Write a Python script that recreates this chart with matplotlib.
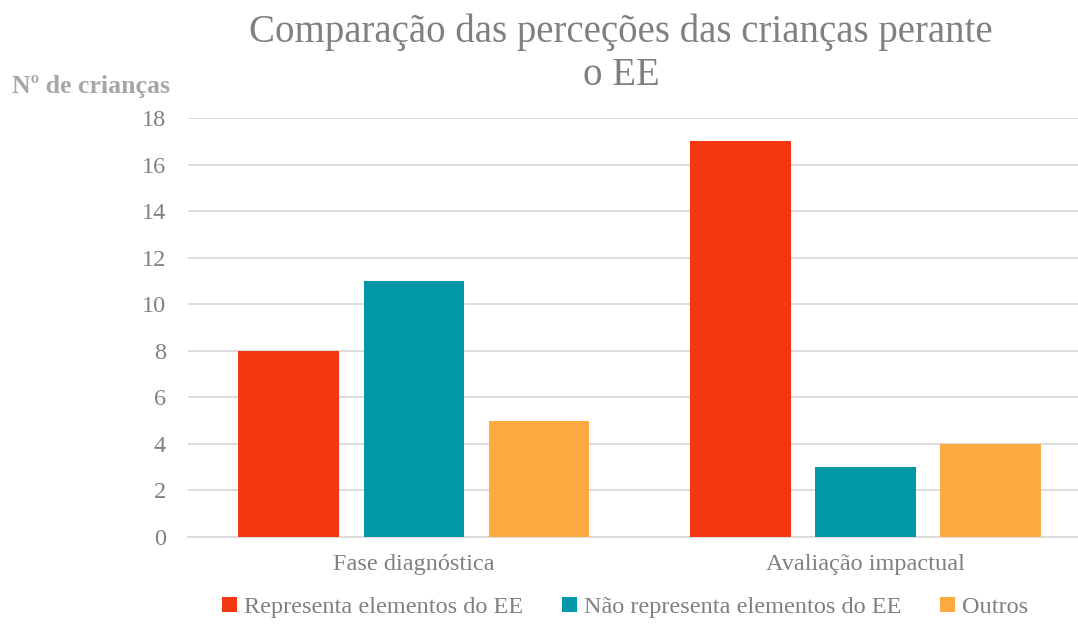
import numpy as np
import matplotlib
matplotlib.use("Agg")
import matplotlib.pyplot as plt

plt.rcParams['font.family'] = ['Liberation Serif', 'DejaVu Serif']

categories = ['Fase diagnóstica', 'Avaliação impactual']
series_names = ['Representa elementos do EE', 'Não representa elementos do EE', 'Outros']
values = [
    [8, 17],
    [11, 3],
    [5, 4],
]
colors = ['#F4370E', '#0097A7', '#FFAA40']
yticks = [0, 2, 4, 6, 8, 10, 12, 14, 16, 18]

fig = plt.figure(figsize=(10.78, 6.24), dpi=100)
ax = fig.add_axes([0.1745, 0.1394, 0.8255, 0.6716])

x = np.arange(len(categories))
width = 0.223
offset = 0.277
handles = []
for i, (name, vals, c) in enumerate(zip(series_names, values, colors)):
    b = ax.bar(x + (i - 1) * offset, vals, width, color=c, label=name, zorder=3)
    handles.append(b)

ax.set_ylim(0, 18)
ax.set_xlim(-0.5, 1.47)
ax.set_yticks(yticks)
ax.set_xticks(x)
ax.set_xticklabels(categories)
ax.yaxis.grid(True, color='#D9D9D9', linewidth=1.3, zorder=0)
for s in ['top', 'right', 'left']:
    ax.spines[s].set_visible(False)
ax.spines['bottom'].set_color('#D9D9D9')
ax.spines['bottom'].set_linewidth(1.3)
ax.tick_params(axis='both', length=0, labelsize=17.5, colors='#808080')
ax.tick_params(axis='y', pad=16)
ax.tick_params(axis='x', pad=12)

fig.text(0.576, 0.978, 'Comparação das perceções das crianças perante\no EE',
         ha='center', va='top', fontsize=28, color='#808080', linespacing=1.22)
fig.text(0.011, 0.861, 'Nº de crianças', ha='left', va='center',
         fontsize=18.5, fontweight='bold', color='#A6A6A6')

leg = fig.legend(handles=handles, labels=series_names, loc='center',
                 bbox_to_anchor=(0.58, 0.027), ncol=3, frameon=False,
                 fontsize=17.5, handlelength=0.6, handleheight=0.6,
                 handletextpad=0.3, columnspacing=1.6)
for t in leg.get_texts():
    t.set_color('#808080')

fig.savefig('out.png', dpi=100)
